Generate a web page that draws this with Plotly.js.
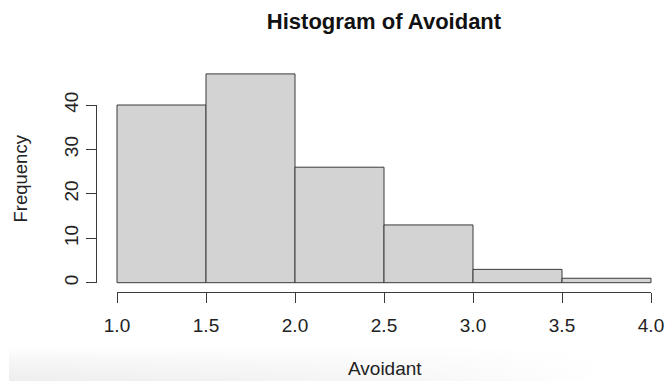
<!DOCTYPE html>
<html>
<head>
<meta charset="utf-8">
<script src="https://cdn.plot.ly/plotly-3.0.1.min.js"></script>
<style>
  html, body { margin: 0; padding: 0; background: #ffffff; }
  #wrap { position: relative; width: 666px; height: 381px; overflow: hidden; }
  #band {
    position: absolute; left: 9px; top: 346px; width: 657px; height: 35px;
    background:
      linear-gradient(to bottom, rgba(255,255,255,1) 0%, rgba(255,255,255,0.5) 40%, rgba(255,255,255,0) 100%),
      linear-gradient(to right, #eeeeee 0%, #f3f3f3 40%, #f9f9f9 70%, #ffffff 90%);
  }
  #chart { position: absolute; left: 0; top: 0; width: 666px; height: 381px; }
</style>
</head>
<body>
<div id="wrap">
  <div id="band"></div>
  <div id="chart"></div>
</div>
<script>
// Histogram of the Avoidant scores: bin edges and counts per bin
const binEdges = [1.0, 1.5, 2.0, 2.5, 3.0, 3.5, 4.0];
const counts = [40, 47, 26, 13, 3, 1];
const yTicks = [0, 10, 20, 30, 40];
const mainTitle = 'Histogram of Avoidant';
const xLabel = 'Avoidant';
const yLabel = 'Frequency';

// Figure geometry (pixels)
const W = 666, H = 381;
const px = v => v / W;
const py = v => 1 - v / H;
const xLeftPx = 117, xRightPx = 651;     // pixel span of x = first..last edge
const yZeroPx = 282.7, yTopPx = 105;      // pixel span of y = 0..40
const xAxisLinePx = 291.7, yAxisLinePx = 95.5;

const xMin = binEdges[0], xMax = binEdges[binEdges.length - 1];
const yMax = yTicks[yTicks.length - 1];
const xScale = (xRightPx - xLeftPx) / (xMax - xMin);
const yScale = (yZeroPx - yTopPx) / yMax;

const mids = [], widths = [];
for (let i = 0; i < counts.length; i++) {
  mids.push((binEdges[i] + binEdges[i + 1]) / 2);
  widths.push(binEdges[i + 1] - binEdges[i]);
}

const font = 'Liberation Sans, Arial, Helvetica, sans-serif';
const ink = '#222222';
const lineCol = '#3a3a3a';

const bars = {
  type: 'bar',
  x: mids,
  y: counts,
  width: widths,
  xaxis: 'x', yaxis: 'y',
  marker: { color: '#d3d3d3', line: { color: lineCol, width: 1 } },
  cliponaxis: false,
  hoverinfo: 'x+y',
  showlegend: false
};

// invisible carrier for the R-style offset axes
const axisCarrier = {
  type: 'scatter',
  mode: 'markers',
  x: [xMin, xMax],
  y: [yTicks[0], yMax],
  xaxis: 'x2', yaxis: 'y2',
  marker: { opacity: 0, size: 1 },
  hoverinfo: 'skip',
  showlegend: false
};

const layout = {
  width: W, height: H,
  margin: { l: 0, r: 0, t: 0, b: 0, pad: 0 },
  paper_bgcolor: 'rgba(0,0,0,0)',
  plot_bgcolor: 'rgba(0,0,0,0)',
  showlegend: false,
  bargap: 0,
  font: { family: font, color: ink, size: 19 },
  title: {
    text: mainTitle,
    x: px(384), xanchor: 'center', xref: 'paper',
    y: py(21), yanchor: 'middle', yref: 'container',
    font: { family: font, size: 22, weight: 'bold', color: '#111111' }
  },
  xaxis: {
    domain: [0, 1],
    range: [xMin - xLeftPx / xScale, xMax + (W - xRightPx) / xScale],
    visible: false, fixedrange: true
  },
  yaxis: {
    domain: [0, 1],
    range: [-(H - yZeroPx) / yScale, yZeroPx / yScale],
    visible: false, fixedrange: true
  },
  xaxis2: {
    domain: [px(xLeftPx), px(xRightPx)],
    range: [xMin, xMax],
    anchor: 'free', position: py(xAxisLinePx),
    showline: true, linecolor: lineCol, linewidth: 1,
    ticks: 'outside', ticklen: 10, tickwidth: 1, tickcolor: lineCol,
    tickvals: binEdges, tickformat: '.1f',
    tickfont: { family: font, size: 19, color: ink },
    ticklabelstandoff: 6,
    showgrid: false, zeroline: false, fixedrange: true
  },
  yaxis2: {
    domain: [py(yZeroPx), py(yTopPx)],
    range: [yTicks[0], yMax],
    anchor: 'free', position: px(yAxisLinePx), side: 'left',
    showline: true, linecolor: lineCol, linewidth: 1,
    ticks: 'outside', ticklen: 10, tickwidth: 1, tickcolor: lineCol,
    tickvals: yTicks, tickangle: -90,
    tickfont: { family: font, size: 19, color: ink },
    ticklabelstandoff: 9.5,
    showgrid: false, zeroline: false, fixedrange: true
  },
  annotations: [
    {
      text: xLabel, xref: 'paper', yref: 'paper',
      x: px(385), y: py(368), xanchor: 'center', yanchor: 'middle',
      showarrow: false, font: { family: font, size: 19, color: ink }
    },
    {
      text: yLabel, xref: 'paper', yref: 'paper', textangle: -90,
      x: px(20), y: py(178.5), xanchor: 'center', yanchor: 'middle',
      showarrow: false, font: { family: font, size: 18.5, color: ink }
    }
  ]
};

Plotly.newPlot('chart', [bars, axisCarrier], layout, { displayModeBar: false, staticPlot: true });
</script>
</body>
</html>
